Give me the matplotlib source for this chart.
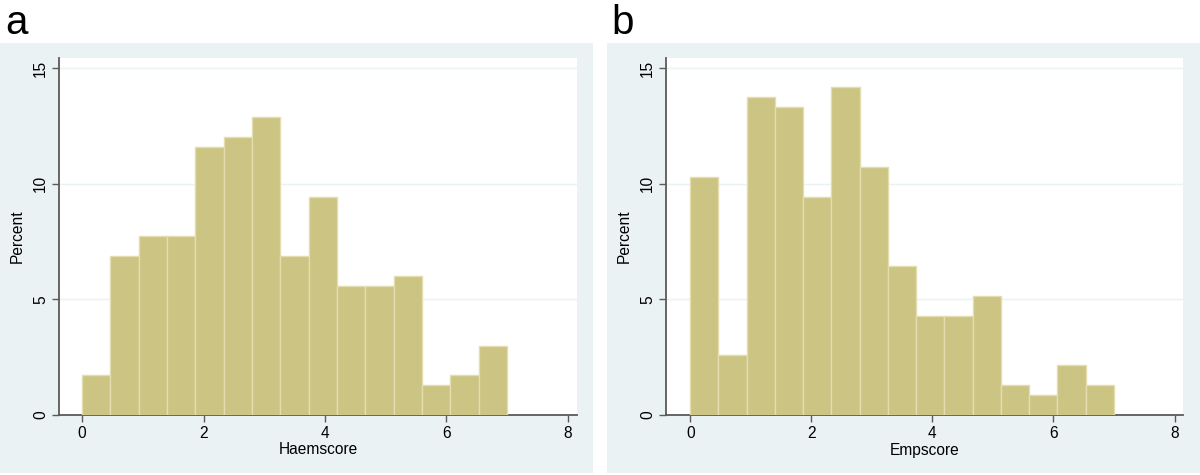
import matplotlib
matplotlib.use("Agg")
import matplotlib.pyplot as plt
from matplotlib.patches import Rectangle
import numpy as np

plt.rcParams['font.family'] = ['Liberation Sans', 'DejaVu Sans']

# Data: 15 equal-width bins from 0 to 7, values in percent
bin_start = 0.0
bin_end = 7.0
n_bins = 15
haem_percent = [1.72, 6.87, 7.73, 7.73, 11.59, 12.02, 12.88, 6.87, 9.44,
                5.58, 5.58, 6.01, 1.29, 1.72, 3.00]
emp_percent = [10.30, 2.58, 13.73, 13.30, 9.44, 14.16, 10.73, 6.44, 4.29,
               4.29, 5.15, 1.29, 0.86, 2.15, 1.29]
x_ticks = [0, 2, 4, 6, 8]
y_ticks = [0, 5, 10, 15]
panel_labels = ['a', 'b']
x_labels = ['Haemscore', 'Empscore']
y_label = 'Percent'

BAR = '#CCC483'
EDGE = '#E3DDB0'
BG = '#EAF2F3'
AX = '#5A5A5A'

W, H = 1200, 475
fig = plt.figure(figsize=(12, 4.75), dpi=100)
fig.patch.set_facecolor('white')

def fx(px):
    return px / W

def fy(py):
    return 1 - py / H

# panel backgrounds
for x0, x1 in [(0, 593), (607, 1200)]:
    fig.patches.append(Rectangle((fx(x0), fy(473)), fx(x1 - x0), (473 - 43) / H,
                                 transform=fig.transFigure, facecolor=BG,
                                 edgecolor='none', zorder=-10))

edges = np.linspace(bin_start, bin_end, n_bins + 1)
width = edges[1] - edges[0]

axes_px = [(59, 577, -0.38, 8.15), (666, 1183, -0.40, 8.14)]
label_x = [5, 611]
datasets = [haem_percent, emp_percent]

for i, (l, r, xmin, xmax) in enumerate(axes_px):
    ax = fig.add_axes([fx(l), fy(415), fx(r - l), (415 - 58) / H])
    ax.set_zorder(1)
    ax.set_facecolor('white')
    ax.bar(edges[:-1], datasets[i], width=width, align='edge', color=BAR,
           edgecolor=EDGE, linewidth=1.0, zorder=3)
    ax.set_xlim(xmin, xmax)
    ax.set_ylim(0, 15.43)
    ax.set_xticks(x_ticks)
    ax.set_yticks(y_ticks)
    ax.set_yticklabels([str(v) for v in y_ticks], rotation=90, va='center')
    for s in ['top', 'right']:
        ax.spines[s].set_visible(False)
    for s in ['left', 'bottom']:
        ax.spines[s].set_color(AX)
        ax.spines[s].set_linewidth(1.3)
    ax.tick_params(axis='both', colors=AX, labelcolor='black', labelsize=11.2,
                   length=5, width=1.0, direction='out', pad=3)
    ax.yaxis.grid(True, color=BG, linewidth=1.0, zorder=0)
    ax.set_axisbelow(True)
    ax.set_xlabel(x_labels[i], fontsize=11.2, labelpad=1)
    ax.set_ylabel(y_label, fontsize=11.2, labelpad=6)
    fig.text(fx(label_x[i]), fy(34), panel_labels[i], fontsize=29,
             ha='left', va='baseline')

fig.savefig('out.png', dpi=100, facecolor='white')
